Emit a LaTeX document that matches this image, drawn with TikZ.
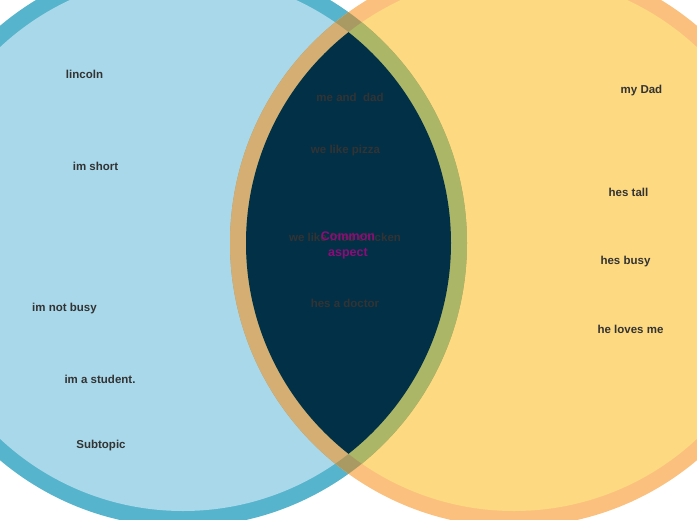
\documentclass[tikz,border=0pt]{standalone}
\usepackage{fontspec}
\setmainfont{Liberation Sans}
\usepackage{tikz}

\definecolor{ringblue}{RGB}{86,180,204}
\definecolor{fillblue}{RGB}{168,216,234}
\definecolor{ringorange}{RGB}{251,192,125}
\definecolor{fillyellow}{RGB}{253,217,129}
\definecolor{lensblue}{RGB}{2,48,71}
\definecolor{tanring}{RGB}{212,174,114}
\definecolor{greenring}{RGB}{171,183,102}
\definecolor{bothrings}{RGB}{168,154,98}
\definecolor{itemtext}{RGB}{51,51,51}
\definecolor{commontext}{RGB}{140,12,120}

\begin{document}
\begin{tikzpicture}[
        x=1pt, y=-1pt,
        item/.style={text=itemtext, font=\fontsize{11.5}{13}\selectfont\bfseries, inner sep=0pt},
        common/.style={text=commontext, font=\fontsize{12.5}{16}\selectfont\bfseries, align=center, inner sep=0pt}
    ]
    \useasboundingbox (0,0) rectangle (697,520);
    \clip (0,0) rectangle (697,520);

    % the two sets
    \coordinate (me) at (183,243);
    \coordinate (dad) at (514,243);
    \fill[ringblue] (me) circle[radius=284];
    \fill[ringorange] (dad) circle[radius=284];
    \fill[fillblue] (me) circle[radius=268];
    \fill[fillyellow] (dad) circle[radius=268];

    % overlaps
    \begin{scope}
        \clip (me) circle[radius=284];
        \fill[bothrings] (dad) circle[radius=284];
    \end{scope}
    \begin{scope}
        \clip (me) circle[radius=268];
        \fill[tanring] (dad) circle[radius=284];
    \end{scope}
    \begin{scope}
        \clip (dad) circle[radius=268];
        \fill[greenring] (me) circle[radius=284];
        \fill[lensblue] (me) circle[radius=268];
    \end{scope}

    % left set
    \node[item] (lincoln) at (84.5,74) {lincoln};
    \node[item] (short) at (95.5,166) {im short};
    \node[item] (notbusy) at (64.5,309) {im not busy};
    \node[item] (student) at (100,379) {im a student.};
    \node[item] (subtopic) at (101,446) {Subtopic};

    % right set
    \node[item] (mydad) at (641.5,91) {my Dad};
    \node[item] (tall) at (628.5,192) {hes tall};
    \node[item] (busy) at (625.5,262) {hes busy};
    \node[item] (loves) at (630.5,329) {he loves me};

    % both
    \node[item] (meanddad) at (350,97) {me and~~dad};
    \node[item] (pizza) at (345.5,151) {we like pizza};
    \node[item] (chicken) at (345,237) {we like fried chicken};
    \node[item] (doctor) at (345,303) {hes a doctor};
    \node[common] (aspect) at (348,245) {Common\\aspect};
\end{tikzpicture}
\end{document}
